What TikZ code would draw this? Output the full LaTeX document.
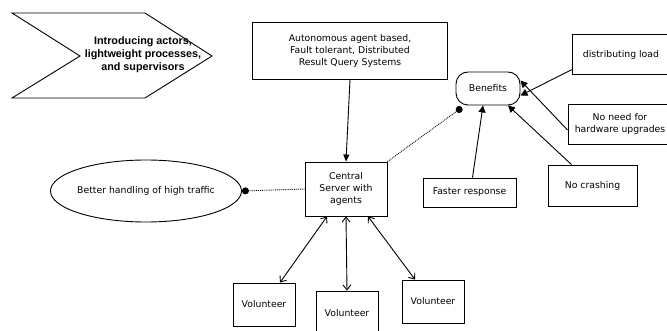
\documentclass[tikz,border=0pt]{standalone}
\usepackage{fontspec}
\setmainfont{DejaVu Sans}
\newfontfamily\boldhead{Liberation Sans}
\usetikzlibrary{arrows.meta,shapes.geometric}

\tikzset{
  box/.style={draw, line width=0.9pt, align=center, inner sep=0pt},
  link/.style={line width=0.9pt},
  gain/.style={link, -{Triangle[length=7pt,width=7pt]}},
  twoway/.style={link, {Straight Barb[length=5pt,width=8pt]}-{Straight Barb[length=5pt,width=8pt]}},
  relation/.style={line width=0.9pt, densely dotted, -{Circle[length=7pt,width=7pt]}}
}

\begin{document}
\begin{tikzpicture}[x=1pt, y=-1pt, font=\fontsize{9.3}{12}\selectfont]
        \useasboundingbox (0,0) rectangle (667,331);
        % coordinates for the chevron
        \coordinate (tl)    at ( 12, 13);
        \coordinate (tr)    at (145, 13);
        \coordinate (tip)   at (212, 56);
        \coordinate (br)    at (145, 98);
        \coordinate (bl)    at ( 12, 98);
        \coordinate (notch) at ( 80, 56);
        % drawing the chevron
        \draw[line width=0.9pt] (tl) -- (tr) -- (tip) -- (br) -- (bl) -- (notch) -- cycle;
        \node[align=center, font=\boldhead\bfseries\fontsize{10.8}{13}\selectfont] (intro) at (143, 55)
          {Introducing actors,\\lightweight processes,\\and supervisors};
        % boxes
        \node[box, minimum width=195pt, minimum height=57pt] (system) at (350, 50.5)
          {Autonomous agent based,\\Fault tolerant, Distributed\\Result Query Systems};
        \node[box, minimum width=82pt, minimum height=54pt] (server) at (346, 189)
          {Central\\Server with\\agents};
        \node[box, rounded corners=12pt, minimum width=64pt, minimum height=33pt] (benefits) at (488, 88.5)
          {Benefits};
        \node[box, minimum width=97pt, minimum height=40pt] (load) at (621, 54.5)
          {distributing load};
        \node[box, minimum width=104pt, minimum height=40pt] (upgrade) at (620, 124)
          {No need for\\hardware upgrades};
        \node[box, minimum width=93pt, minimum height=29pt] (faster) at (469.5, 192.5)
          {Faster response};
        \node[box, minimum width=89pt, minimum height=41pt] (crash) at (592.5, 185.5)
          {No crashing};
        \node[draw, ellipse, line width=0.9pt, inner xsep=-10pt, inner ysep=0pt,
              minimum width=191pt, minimum height=62pt] (traffic) at (146, 191)
          {Better handling of high traffic};
        \node[box, minimum width=62pt, minimum height=43pt] (vleft) at (264, 304.5) {Volunteer};
        \node[box, minimum width=62pt, minimum height=44pt] (vmid) at (347, 313) {Volunteer};
        \node[box, minimum width=62pt, minimum height=43pt] (vright) at (433, 301.5) {Volunteer};
        % connectors
        \draw[link, -{Triangle[length=7pt,width=6pt]}] (system.south) -- (server.north);
        \draw[relation] (server.west) -- (traffic.east);
        \draw[relation] (server.north east) -- ([xshift=-26pt,yshift=-2pt]benefits.south);
        \draw[gain] ([yshift=-15pt]load.west) -- ([yshift=-7pt]benefits.east);
        \draw[gain] ([yshift=-6pt]upgrade.west) -- ([yshift=8pt]benefits.east);
        \draw[gain] ([xshift=3pt]faster.north) -- ([xshift=-5pt]benefits.south);
        \draw[gain] ([xshift=-21pt]crash.north) -- ([xshift=20pt]benefits.south);
        \draw[twoway] ([xshift=-19pt]server.south) -- ([xshift=16pt]vleft.north);
        \draw[twoway] (server.south) -- (vmid.north);
        \draw[twoway] ([xshift=22pt]server.south) -- ([xshift=-18pt]vright.north);
\end{tikzpicture}
\end{document}
